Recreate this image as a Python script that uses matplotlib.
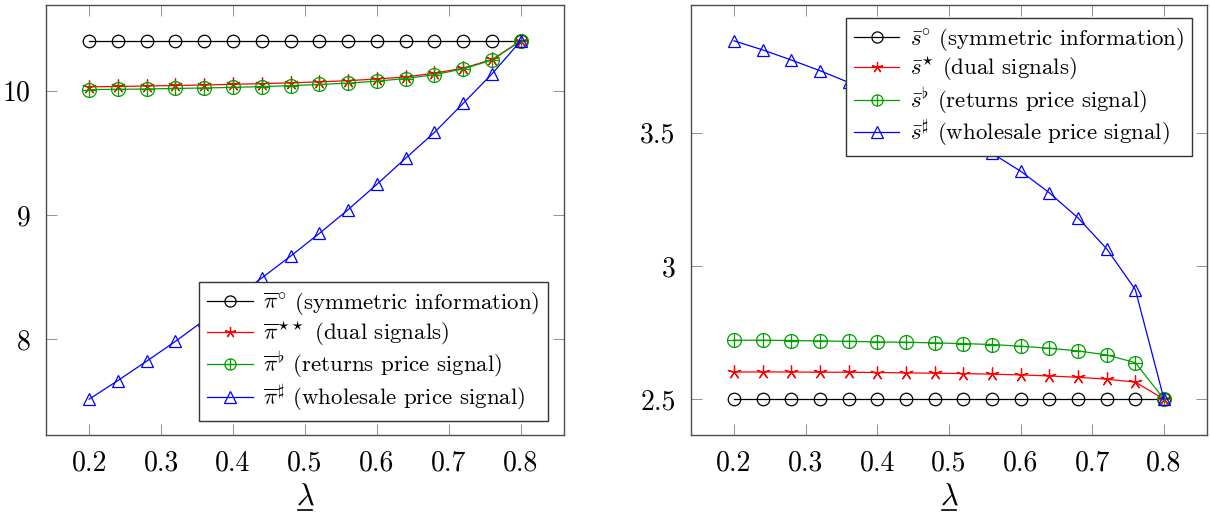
import numpy as np
import matplotlib
matplotlib.use("Agg")
import matplotlib.pyplot as plt
from matplotlib.path import Path
from matplotlib.lines import Line2D

plt.rcParams["font.family"] = "serif"
plt.rcParams["font.serif"] = ["cmr10"]
plt.rcParams["mathtext.fontset"] = "cm"
plt.rcParams["axes.formatter.use_mathtext"] = True

# data
lam = [0.2, 0.24, 0.28, 0.32, 0.36, 0.40, 0.44, 0.48,
       0.52, 0.56, 0.60, 0.64, 0.68, 0.72, 0.76, 0.80]

pi_sym = [10.4] * 16
pi_dual = [10.03, 10.033, 10.037, 10.041, 10.045, 10.05, 10.056, 10.062,
           10.07, 10.08, 10.093, 10.11, 10.14, 10.18, 10.25, 10.4]
pi_ret = [10.008, 10.01, 10.013, 10.017, 10.021, 10.026, 10.032, 10.04,
          10.049, 10.06, 10.076, 10.097, 10.128, 10.175, 10.245, 10.4]
pi_whl = [7.519, 7.669, 7.825, 7.984, 8.154, 8.324, 8.494, 8.669,
          8.852, 9.043, 9.247, 9.457, 9.664, 9.898, 10.135, 10.4]

s_sym = [2.5] * 16
s_dual = [2.602, 2.602, 2.602, 2.601, 2.601, 2.600, 2.5986, 2.5974,
          2.596, 2.5936, 2.591, 2.587, 2.582, 2.575, 2.564, 2.5]
s_ret = [2.721, 2.721, 2.720, 2.7185, 2.717, 2.7146, 2.7135, 2.711,
         2.7085, 2.705, 2.6985, 2.691, 2.681, 2.666, 2.637, 2.5]
s_whl = [3.844, 3.810, 3.772, 3.732, 3.688, 3.641, 3.591, 3.537,
         3.481, 3.422, 3.355, 3.274, 3.180, 3.064, 2.911, 2.5]

pi_labels = [r"$\overline{\pi}^{\circ}$ (symmetric information)",
             r"$\overline{\pi}^{\star\star}$ (dual signals)",
             r"$\overline{\pi}^{\flat}$ (returns price signal)",
             r"$\overline{\pi}^{\sharp}$ (wholesale price signal)"]
s_labels = [r"$\bar{s}^{\circ}$ (symmetric information)",
            r"$\bar{s}^{\star}$ (dual signals)",
            r"$\bar{s}^{\flat}$ (returns price signal)",
            r"$\bar{s}^{\sharp}$ (wholesale price signal)"]

xticks = [0.2, 0.3, 0.4, 0.5, 0.6, 0.7, 0.8]
pi_yticks = [8, 9, 10]
s_yticks = [2.5, 3, 3.5]
s_yticklabels = ["2.5", "3", "3.5"]

# circle-plus marker
circ = Path.unit_circle()
cross = Path([(-1, 0), (1, 0), (0, -1), (0, 1)],
             [Path.MOVETO, Path.LINETO, Path.MOVETO, Path.LINETO])
oplus = Path.make_compound_path(circ, cross)

styles = [
    dict(color="black", marker="o", ms=9),
    dict(color="red", marker=(5, 2, 0), ms=10),
    dict(color="#00a000", marker=oplus, ms=10),
    dict(color="blue", marker="^", ms=9),
]

fig = plt.figure(figsize=(12.1, 5.14), dpi=100)
ax1 = fig.add_axes([46 / 1210, 79 / 514, 518 / 1210, 430 / 514])
ax2 = fig.add_axes([691 / 1210, 79 / 514, 516 / 1210, 430 / 514])


def draw(ax, series, labels):
    for ys, lab, st in zip(series, labels, styles):
        ax.plot(lam, ys, color=st["color"], marker=st["marker"], ms=st["ms"],
                mfc="none", mec=st["color"], mew=0.9, lw=0.9, label=lab)
    allv = np.concatenate([np.asarray(s) for s in series])
    lo, hi = allv.min(), allv.max()
    pad = 0.1 * (hi - lo)
    ax.set_ylim(lo - pad, hi + pad)
    ax.set_xlim(0.2 - 0.06, 0.8 + 0.06)
    ax.set_xticks(xticks)
    ax.set_xticklabels([f"{t:.1f}" for t in xticks])
    ax.tick_params(direction="in", length=8, width=0.6, color="0.5",
                   top=True, right=True, labelsize=20, pad=11)
    for sp in ax.spines.values():
        sp.set_color("0.3")
        sp.set_linewidth(1.0)
    ax.set_xlabel(r"$\lambda$", fontsize=22, labelpad=5)
    # underline under lambda
    fig.add_artist(Line2D([0.5 - 0.013, 0.5 + 0.013], [-0.175, -0.175],
                          transform=ax.transAxes, color="black", lw=1.2))


def legend(ax, loc, anchor):
    leg = ax.legend(loc=loc, bbox_to_anchor=anchor, fontsize=16.5,
                    handlelength=2.0, numpoints=1, fancybox=False,
                    edgecolor="0.2", framealpha=1, borderaxespad=0,
                    labelspacing=0.08, handletextpad=0.45, borderpad=0.35)
    leg.get_frame().set_linewidth(1.0)
    for h in leg.legend_handles:
        h.set_markersize(8)


draw(ax1, [pi_sym, pi_dual, pi_ret, pi_whl], pi_labels)
ax1.set_yticks(pi_yticks)
ax1.set_yticklabels([str(t) for t in pi_yticks])
legend(ax1, "lower right", (0.969, 0.033))

draw(ax2, [s_sym, s_dual, s_ret, s_whl], s_labels)
ax2.set_yticks(s_yticks)
ax2.set_yticklabels(s_yticklabels)
legend(ax2, "upper right", (0.971, 0.970))

fig.savefig("out.png", dpi=100)
